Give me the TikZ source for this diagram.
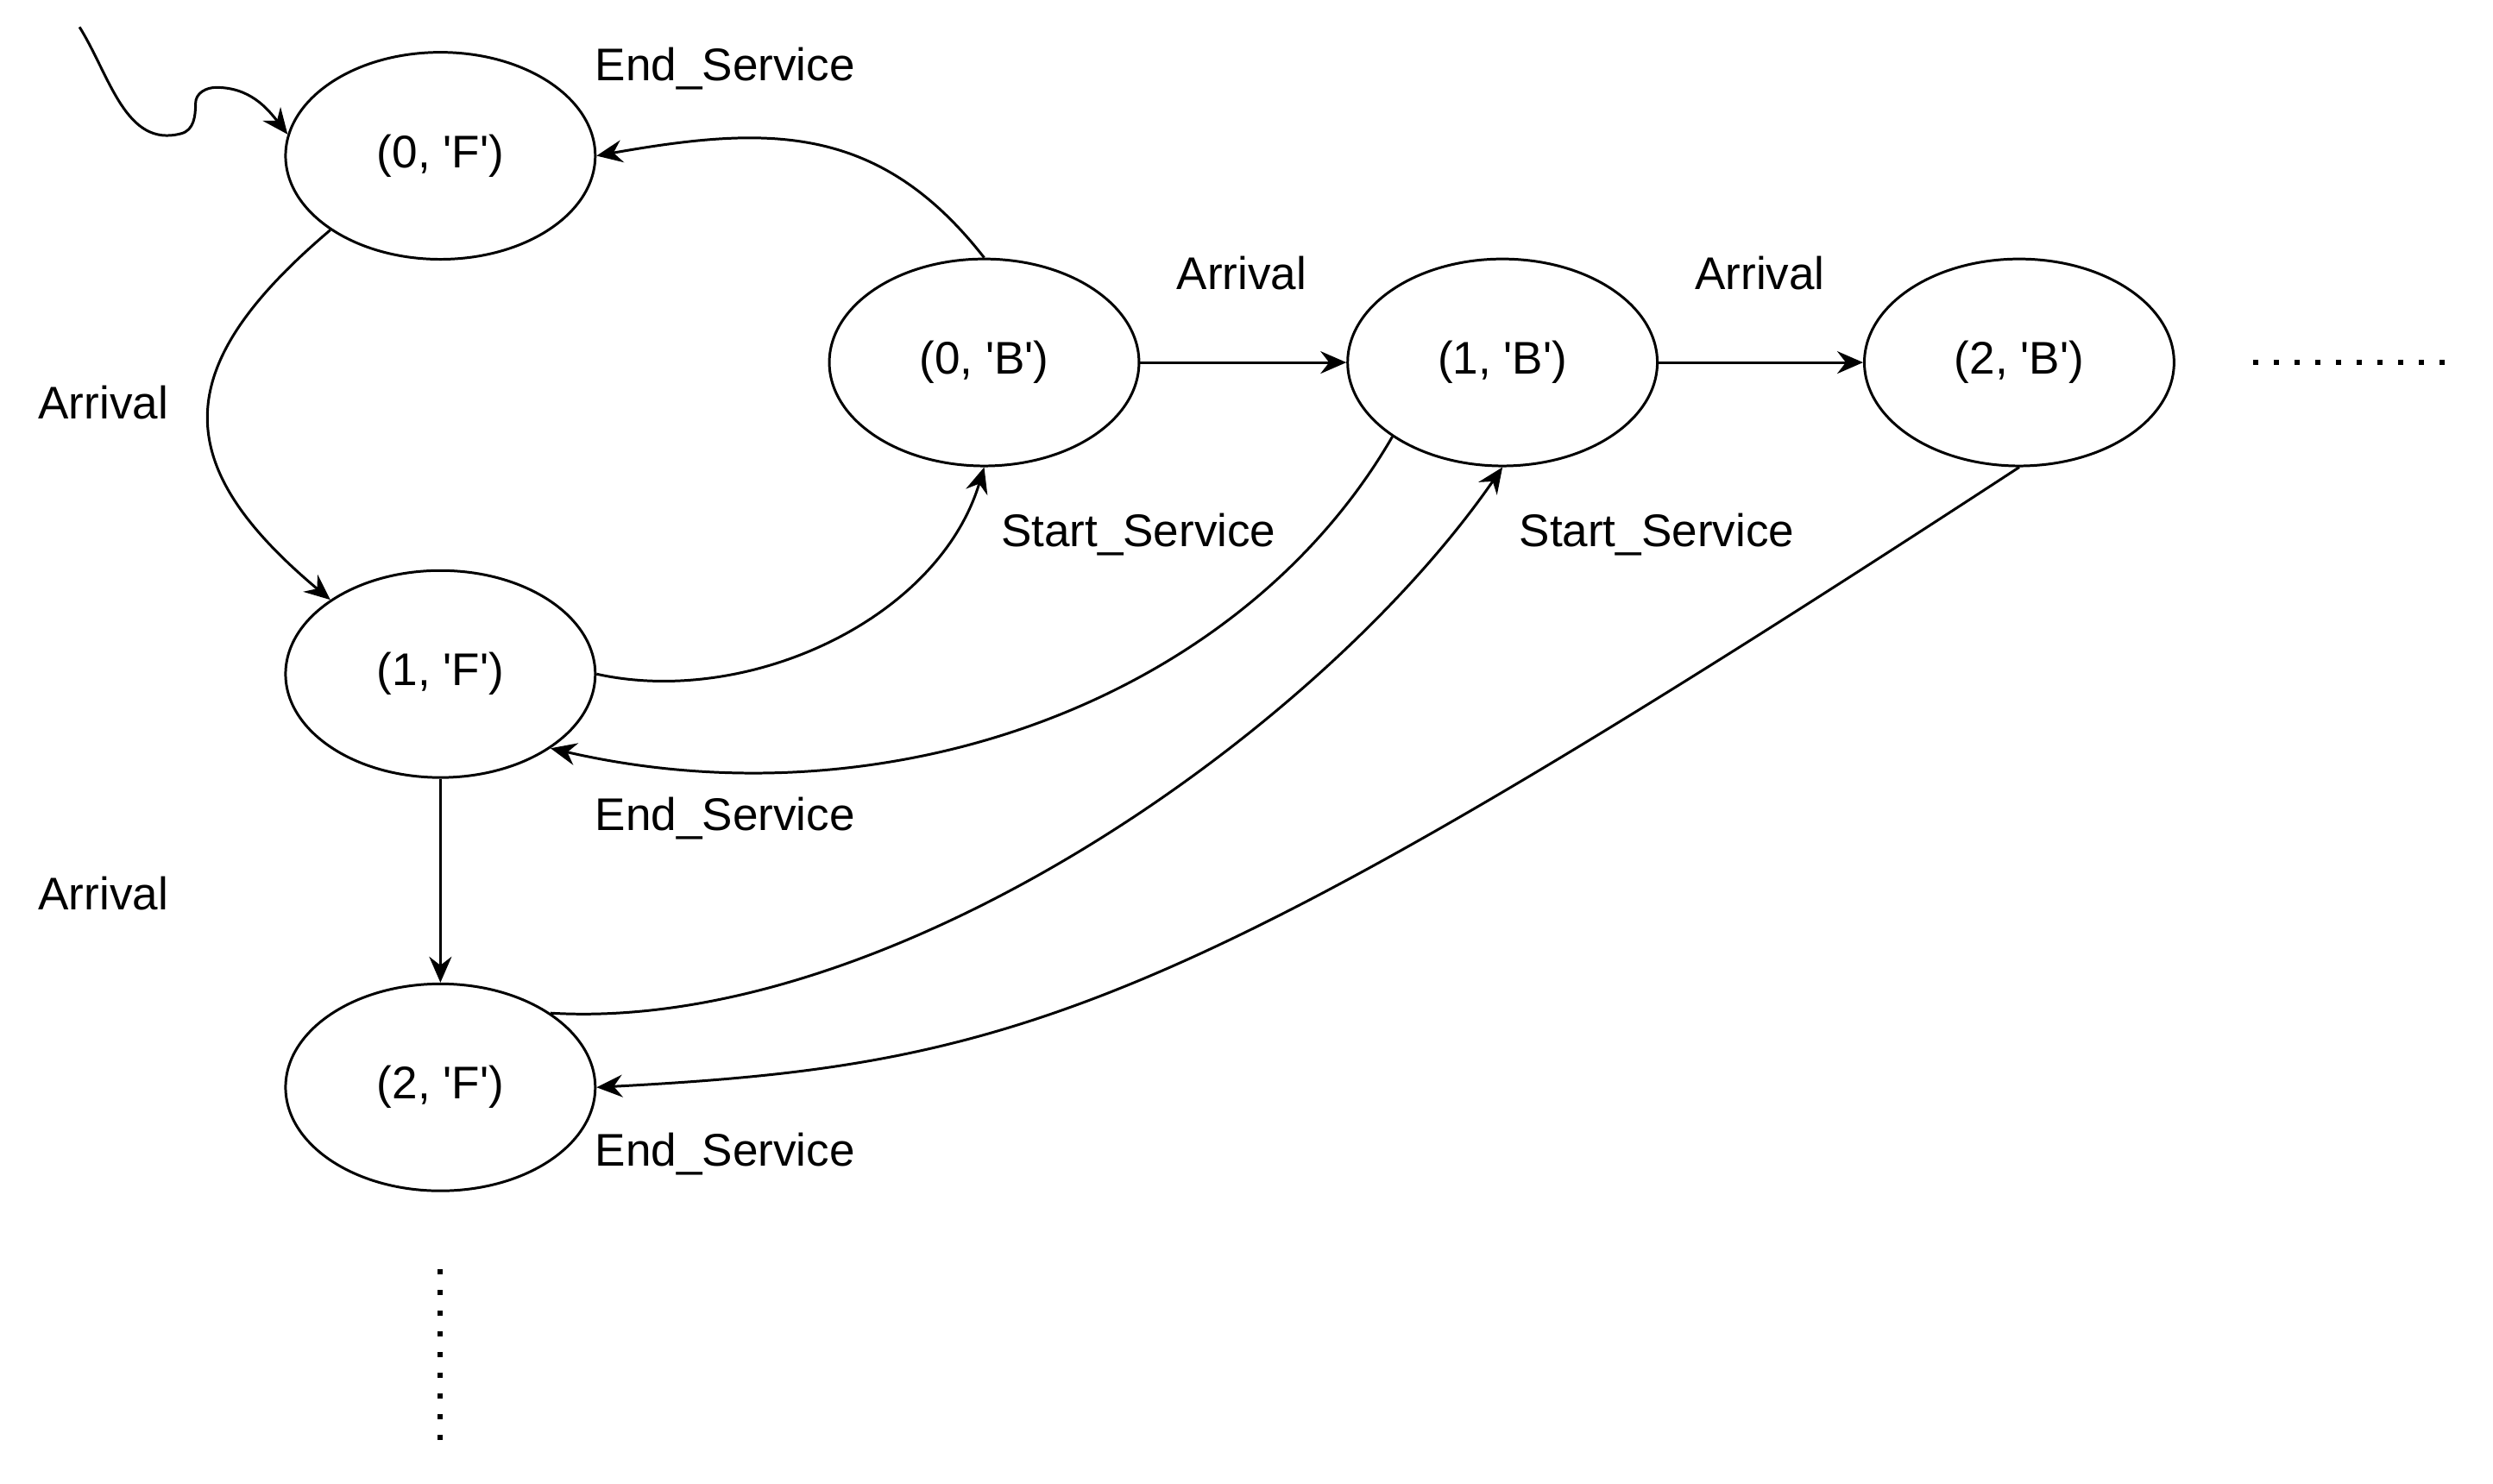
\documentclass[tikz,border=0pt]{standalone}
\usepackage{fontspec}
\setmainfont{Liberation Sans}
\usetikzlibrary{shapes.geometric,arrows.meta}
\newcommand\sq{\textquotesingle}
\begin{document}
\begin{tikzpicture}[x=0.018425cm, y=0.018425cm,
  font=\fontsize{15.1pt}{18pt}\selectfont,
  state/.style = {shape=ellipse, draw, line width=0.85pt,
    minimum width=3.59cm, minimum height=2.40cm, inner sep=0pt},
  lbl/.style = {inner sep=0pt},
  arr/.style = {-{Stealth[length=3mm, width=2.6mm, inset=1mm]}, line width=0.85pt},
  dots/.style = {line width=0.06cm, dash pattern=on 0.06cm off 0.18cm}]
  \useasboundingbox (0,0) rectangle (1568,-933);
  % states
  \node[state] (f0) at (277,-98)  {(0, \sq F\sq)};
  \node[state] (b0) at (619,-228) {(0, \sq B\sq)};
  \node[state] (b1) at (945,-228) {(1, \sq B\sq)};
  \node[state] (b2) at (1270,-228) {(2, \sq B\sq)};
  \node[state] (f1) at (277,-424) {(1, \sq F\sq)};
  \node[state] (f2) at (277,-684) {(2, \sq F\sq)};
  % labels
  \node[lbl] (es0) at (456,-43)  {End\_Service};
  \node[lbl] (ar0) at (65,-253)  {Arrival};
  \node[lbl] (ar1) at (781,-172) {Arrival};
  \node[lbl] (ar2) at (1107,-172) {Arrival};
  \node[lbl] (ss0) at (716,-336) {Start\_Service};
  \node[lbl] (ss1) at (1042,-336) {Start\_Service};
  \node[lbl] (es1) at (456,-515) {End\_Service};
  \node[lbl] (ar3) at (65,-562)  {Arrival};
  \node[lbl] (es2) at (456,-726) {End\_Service};
  % initial arrow
  \coordinate (init) at (50,-17);
  \draw[arr] (init) to[out=-58,in=195] (114,-84) to[out=15,in=270] (123,-65)
    to[out=90,in=180] (136,-55) to[out=0,in=128] (f0.172);
  % transitions
  \draw[arr] (b0.north) to[out=128,in=10,looseness=1.1] (f0.east);
  \draw[arr] (f0.214) .. controls (106,-231) and (106,-292) .. (f1.146);
  \draw[arr] (f1.east) .. controls (470,-445) and (590,-390) .. (b0.south);
  \draw[arr] (b1.214) .. controls (780,-440) and (560,-520) .. (f1.326);
  \draw[arr] (f2.34) .. controls (560,-650) and (830,-460) .. (b1.south);
  \draw[arr] (b2.south) .. controls (740,-640) and (640,-670) .. (f2.east);
  \draw[arr] (f1.south) -- (f2.north);
  \draw[arr] (b0.east) -- (b1.west);
  \draw[arr] (b1.east) -- (b2.west);
  % continuation dots
  \coordinate (hdotsA) at (1417.2,-228);
  \coordinate (hdotsB) at (1538.2,-228);
  \coordinate (vdotsA) at (277,-798.4);
  \coordinate (vdotsB) at (277,-905.8);
  \draw[dots] (hdotsA) -- (hdotsB);
  \draw[dots] (vdotsA) -- (vdotsB);
\end{tikzpicture}
\end{document}
